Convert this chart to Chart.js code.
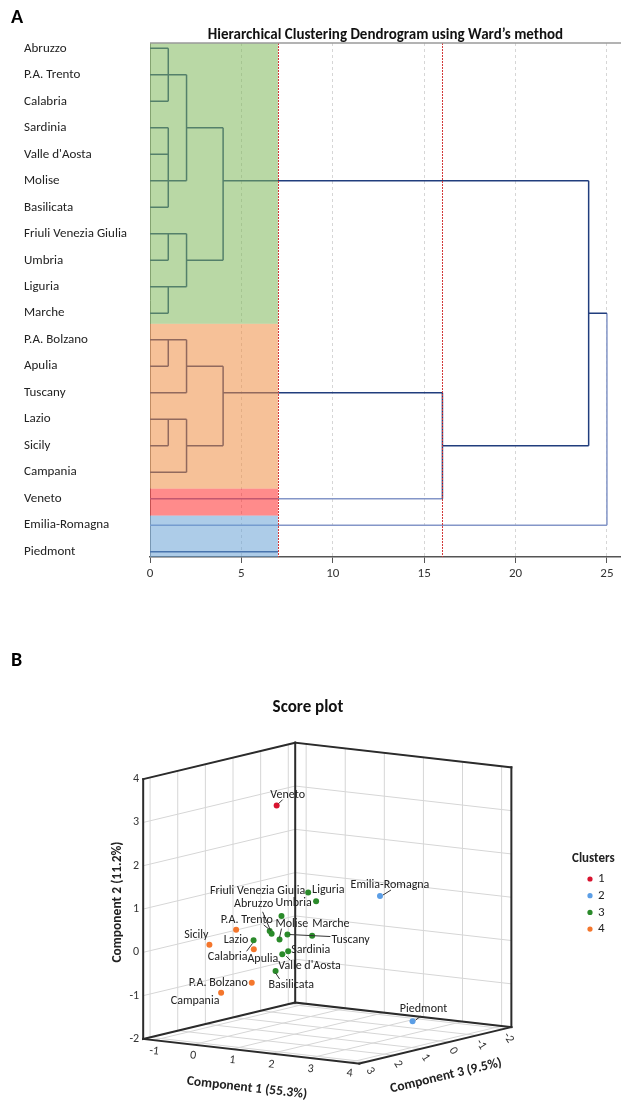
<!DOCTYPE html>
<html><head><meta charset="utf-8">
<script src="https://cdn.jsdelivr.net/npm/chart.js@4"></script>
<style>
html,body{margin:0;padding:0;background:#fff;width:621px;height:1100px;overflow:hidden}
#wa{position:absolute;left:0;top:0;width:621px;height:600px}
#wb{position:absolute;left:0;top:600px;width:621px;height:500px}
canvas{display:block}
</style></head><body>
<div id="wa"><canvas id="ca" width="621" height="600"></canvas></div>
<div id="wb"><canvas id="cb" width="621" height="500"></canvas></div>
<script>
const FONT = "Carlito, Lato, 'Open Sans', sans-serif";

// ---------- Panel A data ----------
const regions = ["Abruzzo","P.A. Trento","Calabria","Sardinia","Valle d'Aosta","Molise","Basilicata","Friuli Venezia Giulia","Umbria","Liguria","Marche","P.A. Bolzano","Apulia","Tuscany","Lazio","Sicily","Campania","Veneto","Emilia-Romagna","Piedmont"];
// merges: children ids (leaves 0..19, merged nodes numbered 20 onward) and rescaled distance
const mergeChildren = [[0,1,2],[3,4,5,6],[7,8],[9,10],[20,21],[22,23],[24,25],[11,12],[27,13],[14,15],[29,16],[28,30],[31,17],[26,32],[18,19],[33,34]];
const mergeHeights  = [1,1,1,1,2,2,4,1,2,1,2,4,16,24,0,25];
const mergeRowOverride = {21:5};
const lightLinks = [17,34];
const lightVerticals = [35];
const distanceTicks = [0,5,10,15,20,25];
const cutHeights = [7,16];
const bandRows = [[-0.2,10.4],[10.4,16.62],[16.62,17.64],[17.64,19.2]];
const bandColors = ['rgba(128,184,91,0.55)','rgba(239,142,68,0.55)','rgba(255,24,24,0.5)','rgba(106,162,213,0.55)'];

// ---------- Panel B data ----------
const scoreNames = ["Veneto","Emilia-Romagna","Piedmont","Friuli Venezia Giulia","Liguria","Umbria","Abruzzo","P.A. Trento","Molise","Tuscany","Marche","Calabria","Sardinia","Valle d'Aosta","Basilicata","Sicily","Lazio","Apulia","P.A. Bolzano","Campania"];
const comp1 = [0.19,2.48,4.02,0.29,0.28,-0.04,-0.08,-0.20,-0.09,-0.10,0.32,-0.33,-0.01,-0.02,-0.05,-0.47,-0.14,0.10,0.26,-0.17];
const comp2 = [3.12,1.19,-1.39,0.97,0.72,0.47,0.10,0.14,-0.08,-0.01,-0.04,-0.03,-0.37,-0.41,-0.77,0.07,0.37,-0.10,-0.81,-1.01];
const comp3 = [0.5,0,1.0,-0.5,-0.8,0,0.3,0.2,0,-0.3,-0.6,0.6,-0.2,0,0.2,2.0,1.5,1.2,1.5,2.0];
const clusterOf = [1,2,2,3,3,3,3,3,3,3,3,3,3,3,3,4,4,4,4,4];
const clusterIds = [1,2,3,4];
const clusterColors = ['#d8132f','#5b9ee6','#2a8a2a','#f4762c'];
const comp1Ticks = [-1,0,1,2,3,4];
const comp2Ticks = [-2,-1,0,1,2,3,4];
const comp3Ticks = [-2,-1,0,1,2,3];
const comp1Range = [-1.28,4.25], comp2Range = [-2,4], comp3Range = [-2.25,3.25];
// label placement (style): dx, dy, align, optional leader line
const labelStyle = [
 {dx:11,dy:-11,a:'center',l:[2,-2,6,-6]},
 {dx:10,dy:-11,a:'center',l:[3,-1,11,-6]},
 {dx:11,dy:-12,a:'center',l:[3,-1,8,-5]},
 {dx:-3,dy:-2,a:'right'},
 {dx:-4,dy:-11,a:'left'},
 {dx:-6,dy:-13,a:'left'},
 {dx:-18,dy:-30,a:'center',l:[-9,-22,-1,-3]},
 {dx:-23,dy:-11,a:'center',l:[-6,-6,-1,-2]},
 {dx:-4,dy:-16,a:'left',l:[2,-11,0,-2]},
 {dx:44,dy:5,a:'left',l:[2,0,43,2]},
 {dx:0,dy:-12,a:'left'},
 {dx:-26,dy:17,a:'center',l:[-7,11,-1,3]},
 {dx:3,dy:-1,a:'left'},
 {dx:-4,dy:12,a:'left',l:[4,2,8,6]},
 {dx:-7,dy:14,a:'left',l:[0,2,4,8]},
 {dx:-13,dy:-10,a:'center'},
 {dx:0,dy:10,a:'center'},
 {dx:9,dy:10,a:'center'},
 {dx:-4,dy:0,a:'right'},
 {dx:-26,dy:8,a:'center'}
];

// ---------- build dendrogram segments ----------
const nodeRow = {}, nodeH = {};
regions.forEach((_,i)=>{nodeRow[i]=i; nodeH[i]=0;});
const darkPts=[], lightPts=[];
const gap = {x:null,y:null};
mergeChildren.forEach((kids,k)=>{
  const id = regions.length + k;
  const h = mergeHeights[k];
  const rows = kids.map(c=>nodeRow[c]);
  const lo = Math.min(...rows), hi = Math.max(...rows);
  nodeRow[id] = (id in mergeRowOverride) ? mergeRowOverride[id] : Math.floor((lo+hi)/2);
  nodeH[id] = h;
  kids.forEach(c=>{
    const tgt = lightLinks.includes(c) ? lightPts : darkPts;
    if (h > nodeH[c]) tgt.push({x:nodeH[c],y:nodeRow[c]},{x:h,y:nodeRow[c]},gap);
  });
  if (hi > lo && h > 0) (lightVerticals.includes(id)?lightPts:darkPts).push({x:h,y:lo},{x:h,y:hi},gap);
});
// Piedmont leaf line inside its band
darkPts.push({x:0,y:19},{x:cutHeights[0],y:19},gap);

const pluginA = {
  id:'decorA',
  afterDatasetsDraw(chart){
    const {ctx, chartArea:ca, scales:{x,y}} = chart;
    ctx.save();
    bandRows.forEach((r,i)=>{
      const x0=x.getPixelForValue(0), x1=x.getPixelForValue(cutHeights[0]);
      const y0=y.getPixelForValue(r[0]), y1=y.getPixelForValue(r[1]);
      ctx.fillStyle=bandColors[i];
      ctx.fillRect(x0,y0,x1-x0,y1-y0);
    });
    ctx.strokeStyle='#d23a3a'; ctx.lineWidth=1; ctx.setLineDash([2,1]);
    cutHeights.forEach(h=>{
      const px=Math.round(x.getPixelForValue(h))+0.5;
      ctx.beginPath(); ctx.moveTo(px,ca.top); ctx.lineTo(px,ca.bottom); ctx.stroke();
    });
    ctx.setLineDash([]);
    ctx.strokeStyle='#9a9a9a'; ctx.lineWidth=1.5;
    ctx.beginPath(); ctx.moveTo(ca.left,ca.top); ctx.lineTo(ca.right,ca.top); ctx.stroke();
    ctx.fillStyle='#000'; ctx.font="bold 20px "+FONT; ctx.textAlign='left'; ctx.textBaseline='middle';
    ctx.fillText('A',11,18);
    ctx.restore();
  }
};

new Chart(document.getElementById('ca'),{
  type:'scatter',
  data:{datasets:[
    {data:darkPts, showLine:true, spanGaps:false, pointRadius:0, borderColor:'#213d7d', borderWidth:1.5},
    {data:lightPts, showLine:true, spanGaps:false, pointRadius:0, borderColor:'#8496c8', borderWidth:1.5}
  ]},
  options:{
    responsive:false, animation:false, events:[],
    layout:{padding:{left:24,top:26,right:0,bottom:0}},
    plugins:{legend:{display:false}, tooltip:{enabled:false},
      title:{display:true, text:'Hierarchical Clustering Dendrogram using Ward\u2019s method', fullSize:false, align:'center', color:'#111',
        font:{family:FONT,size:15,weight:'bold'}, padding:{top:0,bottom:-1}}},
    scales:{
      x:{type:'linear', min:0, max:25.77,
        afterBuildTicks:s=>{s.ticks=distanceTicks.map(v=>({value:v}));},
        afterFit:s=>{s.height=43;},
        ticks:{color:'#333', font:{family:FONT,size:13}, padding:3, maxRotation:0},
        grid:{color:'#d6d6d6', lineWidth:1, tickLength:6, tickColor:'#555', tickBorderDash:[]},
        border:{display:true, color:'#555', width:1.5, dash:[3,3]}},
      y:{type:'linear', reverse:true, min:-0.2, max:19.2,
        afterBuildTicks:s=>{s.ticks=regions.map((_,i)=>({value:i}));},
        afterFit:s=>{s.width=126;},
        ticks:{callback:(v,i)=>regions[i], crossAlign:'far', color:'#222', font:{family:FONT,size:13}, autoSkip:false, padding:0},
        grid:{display:false},
        border:{display:true, color:'#8a8a8a', width:1}}
    }
  },
  plugins:[pluginA]
});

// ---------- Panel B ----------
function proj(X,Y,Z){
  const a=X-comp1Range[0], b=Z-comp3Range[0], c=Y-comp2Range[0];
  return {x:295+39.6*a-28*b, y:405+4.52*a+6.73*b-44*c};
}
const pts = scoreNames.map((n,i)=>proj(comp1[i],comp2[i],comp3[i]));
const datasetsB = clusterIds.map((cid,k)=>({
  label:String(cid),
  data:pts.filter((p,i)=>clusterOf[i]===cid),
  backgroundColor:clusterColors[k], borderColor:clusterColors[k], pointRadius:3, pointBorderWidth:0
}));

const pluginB = {
  id:'decorB',
  beforeDatasetsDraw(chart){
    const {ctx, scales:{x,y}} = chart;
    const P=(X,Y,Z)=>{const q=proj(X,Y,Z); return [x.getPixelForValue(q.x), y.getPixelForValue(q.y)];};
    const line=(p,q)=>{ctx.beginPath(); ctx.moveTo(p[0],p[1]); ctx.lineTo(q[0],q[1]); ctx.stroke();};
    const [x0,x1]=comp1Range,[y0,y1]=comp2Range,[z0,z1]=comp3Range;
    ctx.save();
    ctx.strokeStyle='#d6d6d6'; ctx.lineWidth=1;
    comp1Ticks.forEach(v=>{ line(P(v,y0,z0),P(v,y0,z1)); line(P(v,y0,z0),P(v,y1,z0)); });
    comp3Ticks.forEach(v=>{ line(P(x0,y0,v),P(x1,y0,v)); line(P(x0,y0,v),P(x0,y1,v)); });
    comp2Ticks.forEach(v=>{ line(P(x0,v,z0),P(x1,v,z0)); line(P(x0,v,z0),P(x0,v,z1)); });
    ctx.strokeStyle='#2b2b2b'; ctx.lineWidth=2; ctx.lineCap='square';
    line(P(x0,y0,z1),P(x0,y1,z1)); line(P(x0,y0,z0),P(x0,y1,z0)); line(P(x1,y0,z0),P(x1,y1,z0));
    line(P(x0,y1,z1),P(x0,y1,z0)); line(P(x0,y1,z0),P(x1,y1,z0));
    line(P(x0,y0,z1),P(x0,y0,z0)); line(P(x0,y0,z0),P(x1,y0,z0));
    line(P(x0,y0,z1),P(x1,y0,z1)); line(P(x1,y0,z1),P(x1,y0,z0));
    // tick labels
    ctx.fillStyle='#333'; ctx.font="12px "+FONT; ctx.textBaseline='middle';
    ctx.textAlign='right';
    comp2Ticks.forEach(v=>{const p=P(x0,v,z1); ctx.fillText(String(v),p[0]-4,p[1]);});
    ctx.textAlign='center';
    comp1Ticks.forEach(v=>{const p=P(v,y0,z1); ctx.save(); ctx.translate(p[0],p[1]+11); ctx.rotate(0.11); ctx.fillText(String(v),0,0); ctx.restore();});
    comp3Ticks.forEach(v=>{const p=P(x1,y0,v); ctx.save(); ctx.translate(p[0]+4,p[1]+9); ctx.rotate(1.0); ctx.fillText(String(v),0,0); ctx.restore();});
    // axis titles
    ctx.fillStyle='#222'; ctx.font="bold 13.5px "+FONT;
    ctx.save(); ctx.translate(247,488); ctx.rotate(0.112); ctx.fillText('Component 1 (55.3%)',0,0); ctx.restore();
    ctx.save(); ctx.translate(118,302); ctx.rotate(-Math.PI/2); ctx.fillText('Component 2 (11.2%)',0,0); ctx.restore();
    ctx.save(); ctx.translate(446,476); ctx.rotate(-0.235); ctx.fillText('Component 3 (9.5%)',0,0); ctx.restore();
    // title
    ctx.fillStyle='#111'; ctx.font="bold 17px "+FONT; ctx.fillText('Score plot',308,108);
    ctx.textAlign='left'; ctx.font="bold 20px "+FONT; ctx.fillStyle='#000'; ctx.fillText('B',11,61);
    // legend
    ctx.font="bold 13px "+FONT; ctx.fillStyle='#222'; ctx.fillText('Clusters',572,259);
    ctx.font="13px "+FONT;
    clusterIds.forEach((cid,k)=>{
      const yy=279+k*16.7;
      ctx.fillStyle=clusterColors[k]; ctx.beginPath(); ctx.arc(590,yy,2.6,0,Math.PI*2); ctx.fill();
      ctx.fillStyle='#222'; ctx.fillText(String(cid),598,yy);
    });
    ctx.restore();
  },
  afterDatasetsDraw(chart){
    const {ctx, scales:{x,y}} = chart;
    ctx.save();
    ctx.font="12px "+FONT; ctx.textBaseline='middle'; ctx.fillStyle='#222'; ctx.strokeStyle='#333'; ctx.lineWidth=1;
    scoreNames.forEach((n,i)=>{
      const px=x.getPixelForValue(pts[i].x), py=y.getPixelForValue(pts[i].y);
      const s=labelStyle[i];
      if (s.l){ ctx.beginPath(); ctx.moveTo(px+s.l[0],py+s.l[1]); ctx.lineTo(px+s.l[2],py+s.l[3]); ctx.stroke(); }
      ctx.textAlign=s.a; ctx.fillText(n,px+s.dx,py+s.dy);
    });
    ctx.restore();
  }
};

new Chart(document.getElementById('cb'),{
  type:'scatter',
  data:{datasets:datasetsB},
  options:{
    responsive:false, animation:false, events:[],
    layout:{padding:0},
    plugins:{legend:{display:false}, tooltip:{enabled:false}, title:{display:false}},
    scales:{
      x:{type:'linear', min:0, max:621, display:false},
      y:{type:'linear', min:0, max:500, reverse:true, display:false}
    }
  },
  plugins:[pluginB]
});
</script>
</body></html>
